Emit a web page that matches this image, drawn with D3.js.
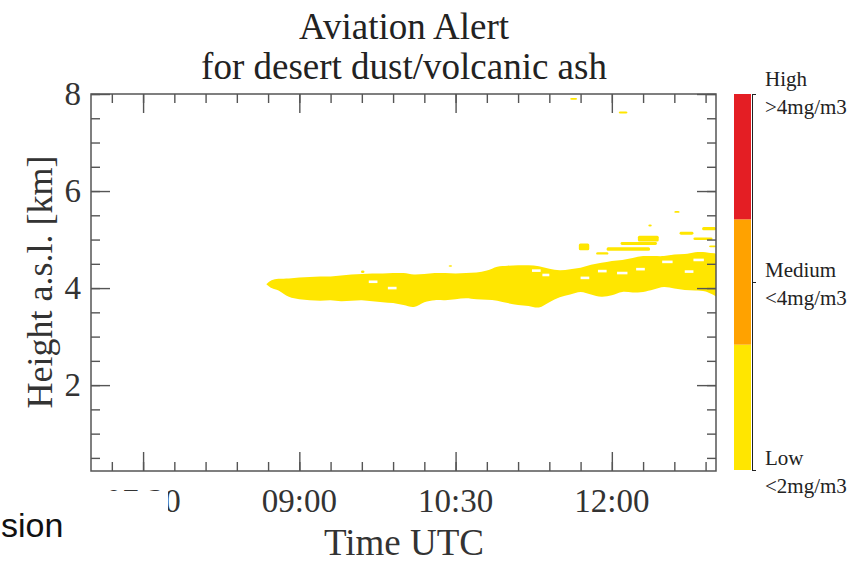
<!DOCTYPE html>
<html>
<head>
<meta charset="utf-8">
<script src="https://cdn.jsdelivr.net/npm/d3@7"></script>
<style>
  body { margin: 0; background: #fff; }
  svg { display: block; }
  text { font-family: "Liberation Serif", "Times New Roman", serif; }
</style>
</head>
<body>
<div class="chart"></div>
<script>
// Aviation alert lidar plot (desert dust / volcanic ash)

// time in minutes after midnight UTC
var tickTimes = [450, 540, 630, 720];
var tickLabels = ["07:30", "09:00", "10:30", "12:00"];
var heightTicks = [2, 4, 6, 8];

// main aerosol layer: time, base and top (km)
var layerTime = [521, 524, 528, 534, 540, 546, 552, 558, 564, 570, 576, 582, 588, 594, 600, 606, 612, 618, 624, 630,
  636, 642, 648, 654, 660, 666, 672, 678, 684, 690, 696, 702, 708, 714, 720, 726, 732, 738, 744, 750, 756, 762, 768, 774, 780];
var layerTop = [4.08, 4.16, 4.19, 4.20, 4.22, 4.23, 4.24, 4.24, 4.26, 4.28, 4.29, 4.30, 4.30, 4.31, 4.31, 4.28, 4.29, 4.31, 4.31, 4.30,
  4.31, 4.32, 4.36, 4.44, 4.46, 4.47, 4.47, 4.45, 4.40, 4.37, 4.39, 4.42, 4.48, 4.52, 4.56, 4.58, 4.62, 4.66, 4.66, 4.66, 4.69, 4.70, 4.74, 4.74, 4.70];
var layerBase = [4.08, 4.00, 3.95, 3.82, 3.77, 3.75, 3.74, 3.75, 3.73, 3.74, 3.75, 3.73, 3.71, 3.69, 3.65, 3.61, 3.71, 3.75, 3.75, 3.77,
  3.79, 3.77, 3.76, 3.74, 3.69, 3.65, 3.63, 3.60, 3.71, 3.81, 3.87, 3.92, 3.87, 3.82, 3.85, 3.92, 3.91, 3.92, 3.97, 4.02, 3.99, 3.96, 3.95, 3.93, 3.83];

// gaps inside the layer: start, end, height
var gapStart = [580, 591, 674, 680, 702, 712, 723, 734, 749, 762, 767];
var gapEnd = [585, 596, 679, 684, 707, 717, 729, 739, 755, 767, 773];
var gapHeight = [4.13, 4.00, 4.36, 4.27, 4.21, 4.35, 4.31, 4.39, 4.54, 4.34, 4.58];

// detached patches: start, end, bottom, top
var patchStart = [696, 724, 701, 711, 717, 725, 735, 741, 756, 759, 767, 772, 775, 776, 575.5, 626];
var patchEnd = [700, 729, 707, 718, 742, 746, 747, 743, 759, 767, 778, 780, 780, 780, 577.5, 628];
var patchBottom = [7.88, 7.60, 4.78, 4.69, 4.77, 4.89, 4.96, 5.27, 5.55, 5.10, 4.99, 5.19, 4.62, 4.84, 4.31, 4.44];
var patchTop = [7.92, 7.64, 4.92, 4.74, 4.84, 4.95, 5.08, 5.31, 5.59, 5.16, 5.04, 5.26, 4.72, 4.88, 4.36, 4.47];

// alert levels for the colour bar
var levelNames = ["Low", "Medium", "High"];
var levelLimits = ["<2mg/m3", "<4mg/m3", ">4mg/m3"];
var levelColors = ["#ffe600", "#ffa200", "#e41e24"];

var W = 866, H = 562;
var margin = {top: 94, right: 150, bottom: 91, left: 91},
    width = 716 - margin.left,
    height = 471 - margin.top;

var svg = d3.select(".chart").append("svg")
    .attr("width", W).attr("height", H);

var g = svg.append("g")
    .attr("transform", "translate(" + margin.left + "," + margin.top + ")");

var x = d3.scaleLinear().domain([420, 780]).range([0, width]);
var y = d3.scaleLinear().domain([0.23, 8]).range([height, 0]);

g.append("clipPath").attr("id", "plotclip")
  .append("rect").attr("width", width).attr("height", height);

var plot = g.append("g").attr("clip-path", "url(#plotclip)");

var layer = layerTime.map(function(t, i) { return {t: t, base: layerBase[i], top: layerTop[i]}; });

var area = d3.area()
    .x(function(d) { return x(d.t); })
    .y0(function(d) { return y(d.base); })
    .y1(function(d) { return y(d.top); })
    .curve(d3.curveCatmullRom);

plot.append("path")
    .datum(layer)
    .attr("d", area)
    .attr("fill", levelColors[0]);

var patches = patchStart.map(function(s, i) {
  return {t0: s, t1: patchEnd[i], h0: patchBottom[i], h1: patchTop[i]};
});
plot.selectAll(".patch")
  .data(patches)
  .enter().append("rect")
    .attr("class", "patch")
    .attr("x", function(d) { return x(d.t0); })
    .attr("width", function(d) { return x(d.t1) - x(d.t0); })
    .attr("y", function(d) { return y(d.h1); })
    .attr("height", function(d) { return y(d.h0) - y(d.h1); })
    .attr("rx", 1.5)
    .attr("fill", levelColors[0]);

var gaps = gapStart.map(function(s, i) { return {t0: s, t1: gapEnd[i], h: gapHeight[i]}; });
plot.selectAll(".gap")
  .data(gaps)
  .enter().append("rect")
    .attr("class", "gap")
    .attr("x", function(d) { return x(d.t0); })
    .attr("width", function(d) { return x(d.t1) - x(d.t0); })
    .attr("y", function(d) { return y(d.h) - 1.3; })
    .attr("height", 2.6)
    .attr("fill", "#fff");

// ticks (inward on all four sides)
var minorT = d3.range(432, 780, 18);
var minorH = d3.range(0.5, 8.01, 0.5);
var axisCol = "#555";

function styleAxis(sel) {
  sel.select(".domain").remove();
  sel.selectAll("line").attr("stroke", axisCol).attr("stroke-width", 1.4);
}

g.append("g").attr("transform", "translate(0," + height + ")")
  .call(d3.axisBottom(x).tickValues(minorT).tickSize(-9).tickFormat("")).call(styleAxis);
g.append("g").attr("transform", "translate(0," + height + ")")
  .call(d3.axisBottom(x).tickValues(tickTimes).tickSize(-19).tickFormat("")).call(styleAxis);
g.append("g")
  .call(d3.axisTop(x).tickValues(minorT).tickSize(-9).tickFormat("")).call(styleAxis);
g.append("g")
  .call(d3.axisTop(x).tickValues(tickTimes).tickSize(-19).tickFormat("")).call(styleAxis);
g.append("g")
  .call(d3.axisLeft(y).tickValues(minorH).tickSize(-9).tickFormat("")).call(styleAxis);
g.append("g")
  .call(d3.axisLeft(y).tickValues(heightTicks).tickSize(-19).tickFormat("")).call(styleAxis);
g.append("g").attr("transform", "translate(" + width + ",0)")
  .call(d3.axisRight(y).tickValues(minorH).tickSize(-9).tickFormat("")).call(styleAxis);
g.append("g").attr("transform", "translate(" + width + ",0)")
  .call(d3.axisRight(y).tickValues(heightTicks).tickSize(-19).tickFormat("")).call(styleAxis);

g.append("rect")
    .attr("width", width).attr("height", height)
    .attr("fill", "none").attr("stroke", axisCol).attr("stroke-width", 1.5);

// tick labels
g.selectAll(".xlab")
  .data(tickTimes)
  .enter().append("text")
    .attr("x", function(d) { return x(d); })
    .attr("y", height + 41)
    .attr("text-anchor", "middle")
    .style("font-size", "33px")
    .attr("fill", "#333")
    .text(function(d, i) { return tickLabels[i]; });

g.selectAll(".ylab")
  .data(heightTicks)
  .enter().append("text")
    .attr("x", -10)
    .attr("y", function(d) { return y(d) + 11; })
    .attr("text-anchor", "end")
    .style("font-size", "33px")
    .attr("fill", "#333")
    .text(function(d) { return d; });

// axis titles
svg.append("text")
    .attr("x", 404).attr("y", 555)
    .attr("text-anchor", "middle")
    .style("font-size", "37px")
    .attr("fill", "#333")
    .text("Time UTC");

svg.append("text")
    .attr("transform", "translate(52,282) rotate(-90)")
    .attr("text-anchor", "middle")
    .style("font-size", "36px")
    .attr("fill", "#333")
    .text("Height a.s.l. [km]");

// title
svg.append("text")
    .attr("x", 404).attr("y", 39)
    .attr("text-anchor", "middle")
    .style("font-size", "37px")
    .attr("fill", "#222")
    .text("Aviation Alert");
svg.append("text")
    .attr("x", 404).attr("y", 79)
    .attr("text-anchor", "middle")
    .style("font-size", "37px")
    .attr("fill", "#222")
    .text("for desert dust/volcanic ash");

// colour bar
var cb = d3.scaleLinear().domain([0, 3]).range([470, 94]);
svg.selectAll(".cb")
  .data(levelColors)
  .enter().append("rect")
    .attr("x", 734)
    .attr("width", 17)
    .attr("y", function(d, i) { return cb(i + 1); })
    .attr("height", function(d, i) { return cb(i) - cb(i + 1); })
    .attr("fill", function(d) { return d; });

var cbAxis = svg.append("g").attr("transform", "translate(752,0)")
  .call(d3.axisRight(cb).tickValues([0, 1.5, 3]).tickSize(4).tickFormat(""));
cbAxis.select(".domain").attr("stroke", "#222").attr("stroke-width", 1);
cbAxis.selectAll("line").attr("stroke", "#222");

var cbPos = [0, 1.5, 3];
levelNames.forEach(function(name, i) {
  var yy = cb(cbPos[i]) + (i === 2 ? -3 : 0);
  svg.append("text")
      .attr("x", 765).attr("y", yy - 5)
      .style("font-size", "21px").attr("fill", "#222")
      .text(name);
  svg.append("text")
      .attr("x", 765).attr("y", yy + 23)
      .style("font-size", "21px").attr("fill", "#222")
      .text(levelLimits[i]);
});

// bit of slide text overlapping the plot (covers most of the first label)
svg.append("rect")
    .attr("x", 0).attr("y", 491).attr("width", 168).attr("height", 71)
    .attr("fill", "#fff");
svg.append("text")
    .attr("x", 1).attr("y", 537)
    .style("font-family", "'Liberation Sans', Arial, sans-serif")
    .style("font-size", "34px")
    .attr("fill", "#111")
    .text("sion");
</script>
</body>
</html>
